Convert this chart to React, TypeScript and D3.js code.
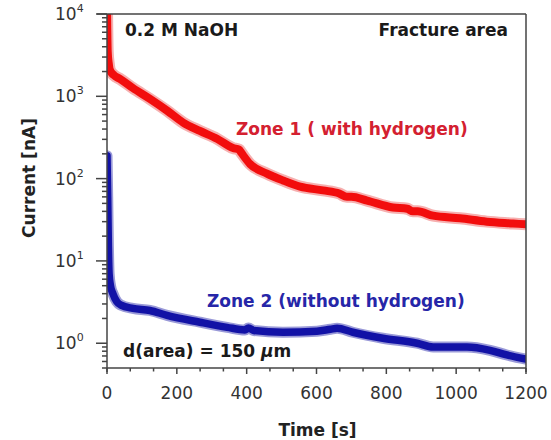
import React from "react";
import * as d3 from "d3";

const width = 551;
const height = 440;

// Zone 1 (with hydrogen), red
const zone1Time = [0, 2, 5, 8, 20, 37, 74, 123, 172, 218, 266, 315, 361, 378, 385, 410, 458, 504, 553, 619, 665, 687, 700, 745, 819, 860, 876, 890, 934, 1011, 1088, 1163, 1200];
const zone1Current = [12000, 3500, 2500, 2100, 1800, 1630, 1260, 930, 670, 480, 380, 305, 235, 225, 205, 150, 115, 95, 80, 72, 66, 60, 60, 54, 44.5, 43, 40, 40, 35.5, 33, 30, 28.5, 27.8];

// Zone 2 (without hydrogen), blue
const zone2Time = [0, 2, 4, 6, 10, 17, 28, 40, 74, 123, 172, 266, 344, 395, 405, 420, 504, 601, 640, 659, 704, 790, 888, 934, 1031, 1097, 1145, 1200];
const zone2Current = [190, 60, 15, 7, 5, 4, 3.2, 2.9, 2.65, 2.5, 2.18, 1.8, 1.56, 1.45, 1.53, 1.43, 1.36, 1.4, 1.48, 1.52, 1.36, 1.15, 1.0, 0.9, 0.9, 0.82, 0.72, 0.64];

const xTicks = [0, 200, 400, 600, 800, 1000, 1200];
const yDecades = [0, 1, 2, 3, 4];

const font = "'DejaVu Sans', sans-serif";

export default function App() {
  const x = d3.scaleLinear().domain([0, 1200]).range([107, 526]);
  const y = d3.scaleLog().domain([0.5, 10000]).range([368, 14]);
  const [x0, x1] = x.range();
  const [y0, y1] = y.range();

  const line = d3
    .line<[number, number]>()
    .x(d => x(d[0]))
    .y(d => y(d[1]))
    .curve(d3.curveMonotoneX);

  const zone1 = line(zone1Time.map((t, i) => [t, zone1Current[i]]) as [number, number][]);
  const zone2 = line(zone2Time.map((t, i) => [t, zone2Current[i]]) as [number, number][]);

  const minorX = d3.range(0, 19).map(i => (i * 200) / 3);
  const minorY: number[] = [];
  for (let d = -1; d < 4; d++) {
    for (let k = 2; k < 10; k++) {
      const v = k * Math.pow(10, d);
      if (v >= 0.5 && v <= 10000) minorY.push(v);
    }
  }

  return (
    <svg width={width} height={height} style={{ position: "absolute", left: 0, top: 0, background: "#fff" }}>
      <defs>
        <clipPath id="plot">
          <rect x={x0} y={y1} width={x1 - x0} height={y0 - y1} />
        </clipPath>
      </defs>

      <g clipPath="url(#plot)" fill="none" strokeLinejoin="round" strokeLinecap="round">
        <path d={zone1 || ""} stroke="#f6b0b0" strokeWidth={12} />
        <path d={zone1 || ""} stroke="#f20d0d" strokeWidth={8} />
        <path d={zone2 || ""} stroke="#9a9ad8" strokeWidth={11} />
        <path d={zone2 || ""} stroke="#1212a6" strokeWidth={7.5} />
      </g>

      {/* frame */}
      <g stroke="#444" strokeWidth={1.5} fill="none">
        <line x1={x0 - 10} x2={x1} y1={y1} y2={y1} />
        <line x1={x1} x2={x1} y1={y1} y2={y0 + 4} />
        <line x1={x0} x2={x0} y1={y1} y2={y0 + 4} />
        <line x1={x0} x2={x1} y1={y0} y2={y0} />
        {minorX.map((t, i) => (
          <line key={"mx" + i} x1={x(t)} x2={x(t)} y1={y0} y2={y0 + (i % 3 === 0 ? 6 : 3.5)} />
        ))}
        {minorY.map((v, i) => (
          <line key={"my" + i} x1={x0 - 5} x2={x0} y1={y(v)} y2={y(v)} />
        ))}
        {yDecades.map(d => (
          <line key={"My" + d} x1={x0 - 11} x2={x0} y1={y(Math.pow(10, d))} y2={y(Math.pow(10, d))} />
        ))}
      </g>

      {/* tick labels */}
      <g fontFamily={font} fill="#333" fontSize={17}>
        {xTicks.map(t => (
          <text key={t} x={x(t)} y={399} textAnchor="middle">
            {t}
          </text>
        ))}
        {yDecades.map(d => (
          <text key={d} x={55} y={y(Math.pow(10, d)) + 6}>
            10
            <tspan fontSize={11} dy={-8}>
              {d}
            </tspan>
          </text>
        ))}
      </g>

      {/* axis titles */}
      <g fontFamily={font} fontWeight="bold" fontSize={17} fill="#222">
        <text x={(x0 + x1) / 2 + 1} y={436} textAnchor="middle">
          Time [s]
        </text>
        <text transform={`translate(35, 178) rotate(-90)`} textAnchor="middle">
          Current [nA]
        </text>
      </g>

      {/* annotations */}
      <g fontFamily={font} fontWeight="bold" fontSize={17}>
        <text x={125} y={36} fill="#1a1a1a">0.2 M NaOH</text>
        <text x={508} y={36} fill="#1a1a1a" textAnchor="end">Fracture area</text>
        <text x={236} y={135} fill="#d42030">Zone 1 ( with hydrogen)</text>
        <text x={207} y={307} fill="#2626a8">Zone 2 (without hydrogen)</text>
        <text x={123} y={357} fill="#1a1a1a">
          d(area) = 150 <tspan fontStyle="italic">μ</tspan>m
        </text>
      </g>
    </svg>
  );
}
